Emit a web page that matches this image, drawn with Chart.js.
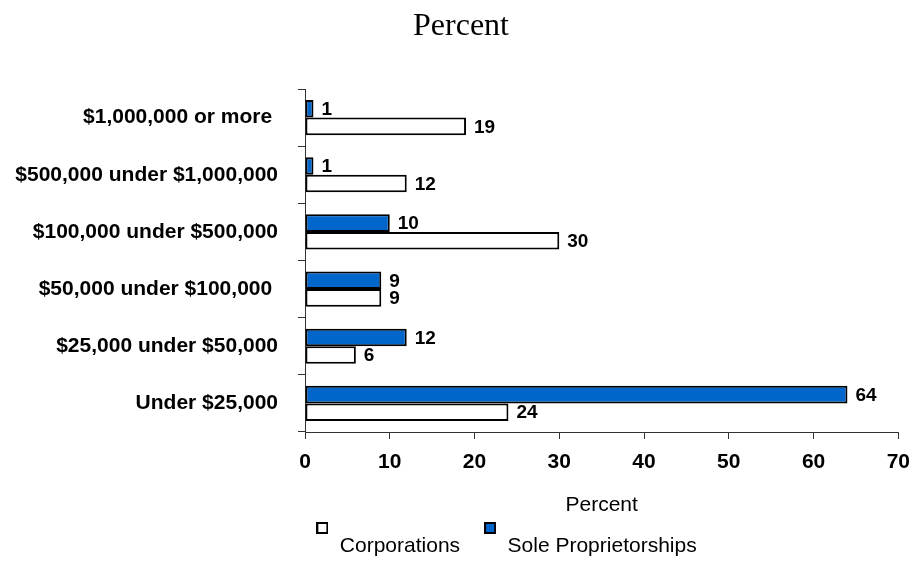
<!DOCTYPE html>
<html>
<head>
<meta charset="utf-8">
<script src="https://cdn.jsdelivr.net/npm/chart.js@4"></script>
<style>
  body { margin: 0; background: #fff; }
  #wrap { width: 910px; height: 561px; }
</style>
</head>
<body>
<div id="wrap"><canvas id="myChart" width="910" height="561"></canvas></div>
<script>
// chart data
var categories = ['$1,000,000 or more ', '$500,000 under $1,000,000', '$100,000 under $500,000',
  '$50,000 under $100,000 ', '$25,000 under $50,000', 'Under $25,000'];
var soleProps = [1, 1, 10, 9, 12, 64];
var corporations = [19, 12, 30, 9, 6, 24];
var xTicks = [0, 10, 20, 30, 40, 50, 60, 70];

var blue = '#0066cc';

// little legend squares that sit above the text line
function makeIcon(fill) {
  var c = document.createElement('canvas');
  c.width = 12;
  c.height = 48;
  var g = c.getContext('2d');
  g.fillStyle = fill;
  g.fillRect(1, 1, 10, 10);
  g.lineWidth = 2;
  g.strokeStyle = '#000';
  g.strokeRect(1, 1, 10, 10);
  return c;
}
var icons = [makeIcon(blue), makeIcon('#ffffff')];

var topTitle = {
  id: 'topTitle',
  afterDraw: function(chart) {
    var ctx = chart.ctx;
    ctx.save();
    ctx.font = '32px "Liberation Serif"';
    ctx.fillStyle = '#000';
    ctx.textAlign = 'center';
    ctx.textBaseline = 'alphabetic';
    ctx.fillText('Percent', 461, 35);
    ctx.restore();
  }
};

// long category names spill left of the padded area, so widen the label clip
var unclipY = {
  id: 'unclipY',
  afterLayout: function(chart) {
    chart.scales.y.left = 0;
  }
};

var valueLabels = {
  id: 'valueLabels',
  afterDatasetsDraw: function(chart) {
    var ctx = chart.ctx;
    ctx.save();
    ctx.font = 'bold 19px "Liberation Sans"';
    ctx.fillStyle = '#000';
    ctx.textAlign = 'left';
    ctx.textBaseline = 'middle';
    chart.data.datasets.forEach(function(ds, i) {
      chart.getDatasetMeta(i).data.forEach(function(bar, j) {
        ctx.fillText(ds.data[j], bar.x + 8, bar.y + 1);
      });
    });
    ctx.restore();
  }
};

Chart.defaults.color = '#000';
Chart.defaults.font.family = '"Liberation Sans", Arial, sans-serif';

var ctx = document.getElementById('myChart').getContext('2d');
var chart = new Chart(ctx, {
  type: 'bar',
  data: {
    labels: categories,
    datasets: [{
      label: 'Sole Proprietorships',
      data: soleProps,
      backgroundColor: blue,
      borderColor: '#000',
      borderWidth: 2,
      borderSkipped: false,
      barPercentage: 1,
      categoryPercentage: 0.614
    }, {
      label: 'Corporations',
      data: corporations,
      backgroundColor: '#ffffff',
      borderColor: '#000',
      borderWidth: 2,
      borderSkipped: false,
      barPercentage: 1,
      categoryPercentage: 0.614
    }]
  },
  options: {
    indexAxis: 'y',
    responsive: false,
    animation: false,
    devicePixelRatio: 1,
    layout: { padding: { top: 89, left: 102, right: 0, bottom: -5.5 } },
    scales: {
      x: {
        min: 0,
        max: 70,
        afterBuildTicks: function(scale) {
          scale.ticks = xTicks.map(function(v) { return { value: v }; });
        },
        grid: { drawOnChartArea: false, tickLength: 7, color: '#333' },
        border: { color: '#333' },
        ticks: { padding: 0, font: { size: 21, weight: 'bold', lineHeight: 46 / 21 } },
        title: {
          display: true,
          text: 'Percent',
          font: { size: 21, lineHeight: 0.5 },
          padding: { top: 15.25, bottom: 1.75 }
        }
      },
      y: {
        afterFit: function(scale) { scale.width = 203; },
        grid: { drawOnChartArea: false, tickLength: 7, color: '#333' },
        border: { color: '#333' },
        ticks: { padding: 20, font: { size: 21, weight: 'bold' } }
      }
    },
    plugins: {
      title: { display: false },
      tooltip: { enabled: false },
      legend: {
        position: 'bottom',
        reverse: true,
        labels: {
          usePointStyle: true,
          boxWidth: 14,
          boxHeight: 14,
          padding: 23,
          font: { size: 21 },
          generateLabels: function(chart) {
            var items = Chart.defaults.plugins.legend.labels.generateLabels(chart);
            items.forEach(function(it) { it.pointStyle = icons[it.datasetIndex]; });
            return items;
          }
        }
      }
    }
  },
  plugins: [topTitle, unclipY, valueLabels]
});
</script>
</body>
</html>
